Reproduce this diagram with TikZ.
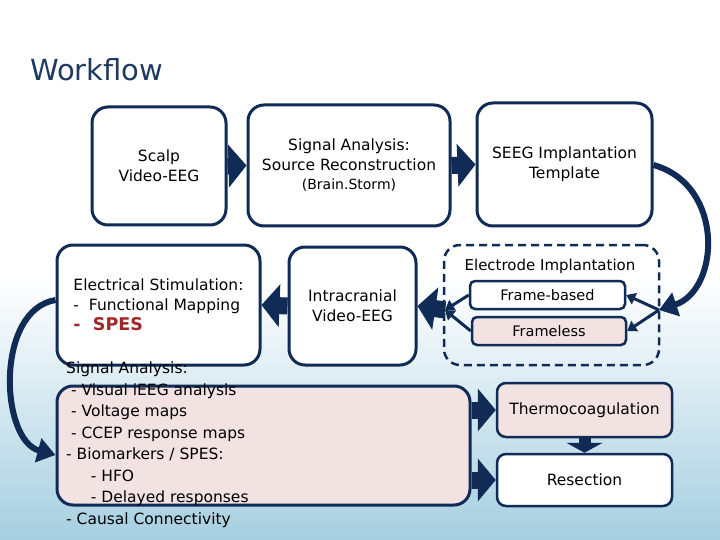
\documentclass[tikz,border=0pt]{standalone}
\usepackage{fontspec}
\setmainfont{DejaVu Sans}
\usetikzlibrary{arrows.meta}
\definecolor{navy}{HTML}{0F2B56}
\definecolor{pinkf}{HTML}{F2E2E2}
\definecolor{skyb}{HTML}{A6CFE0}
\definecolor{titlec}{HTML}{1F3A5F}
\definecolor{spes}{HTML}{A0262A}
\begin{document}
\begin{tikzpicture}[x=1pt,y=-1pt,
  box/.style={draw=navy,line width=3pt,rounded corners=16pt,fill=white,font=\fontsize{15.5}{20}\selectfont,align=center,inner sep=0pt},
  sbox/.style={draw=navy,line width=2.5pt,rounded corners=5pt,font=\fontsize{14.5}{18}\selectfont,align=center,inner sep=0pt},
  big/.style={line width=17pt,draw=navy,-{Triangle[length=18pt,width=42pt]}},
  thin/.style={line width=3pt,draw=navy,-{Triangle[length=9pt,width=12pt]}}]
\fill[white] (0,0) rectangle (720,540);
\fill[top color=white,bottom color=skyb] (0,280) rectangle (720,540);
\useasboundingbox (0,0) rectangle (720,540);
\node[anchor=west,text=titlec,font=\fontsize{29}{34}\selectfont,inner sep=0pt] (title) at (30,70) {Workflow};
\node[box,minimum width=134pt,minimum height=118pt] (scalp) at (159,166) {Scalp\\Video-EEG};
\node[box,minimum width=202pt,minimum height=121pt] (sig) at (349,165.5) {Signal Analysis:\\Source Reconstruction\\[-1pt]{\fontsize{14}{18}\selectfont(Brain.Storm)}};
\node[box,minimum width=175pt,minimum height=123pt] (seeg) at (564.5,164.5) {SEEG Implantation\\Template};
\node[box,minimum width=203pt,minimum height=120pt,align=left] (elec) at (158.5,305) {Electrical Stimulation:\\-\ \ Functional Mapping\\{\color{spes}\fontsize{17.5}{20}\selectfont\bfseries -\ \ SPES}};
\node[box,minimum width=127pt,minimum height=118pt] (intra) at (352.5,306) {Intracranial\\Video-EEG};
\node[draw=navy,line width=2.5pt,dashed,dash pattern=on 8pt off 5pt,rounded corners=16pt,minimum width=215pt,minimum height=120pt] (impl) at (551.5,305) {};
\node[font=\fontsize{15}{18}\selectfont] (impllab) at (550,266) {Electrode Implantation};
\node[sbox,fill=white,minimum width=155pt,minimum height=28pt] (fb) at (547.5,295) {Frame-based};
\node[sbox,fill=pinkf,minimum width=154pt,minimum height=28pt] (fl) at (549,331) {Frameless};
\node[box,fill=pinkf,minimum width=413pt,minimum height=119pt] (ana) at (263.5,445.5) {};
\node[anchor=north west,align=left,font=\fontsize{15.5}{21.5}\selectfont,inner sep=0pt] (anatext) at (66,362) {Signal Analysis:\\\ - Visual iEEG analysis\\\ - Voltage maps\\\ - CCEP response maps\\- Biomarkers / SPES:\\\ \ \ \ \ - HFO\\\ \ \ \ \ - Delayed responses\\- Causal Connectivity};
\node[sbox,fill=pinkf,rounded corners=9pt,minimum width=175pt,minimum height=54pt,font=\fontsize{15.5}{18}\selectfont] (thermo) at (584.5,410) {Thermocoagulation};
\node[sbox,fill=white,rounded corners=9pt,minimum width=175pt,minimum height=52pt,font=\fontsize{15.5}{18}\selectfont] (res) at (584.5,480) {Resection};
\coordinate (ir) at (659,310);
\coordinate (il) at (445,310);
\draw[big] (scalp.east) -- (sig.west);
\draw[big] (sig.east) -- (seeg.west);
\draw[big] (intra.west) -- (elec.east);
\draw[big] (il) -- (intra.east);
\draw[big] (ana.east|-thermo) -- (thermo.west);
\draw[big] (ana.east|-res) -- (res.west);
\draw[line width=12pt,draw=navy,-{Triangle[length=10pt,width=36pt]}] (thermo.south) -- (res.north);
\draw[line width=6pt,draw=navy,-{Triangle[length=18pt,width=24pt]}] (seeg.east|-0,165) .. controls (725,185) and (720,290) .. (ir);
\draw[line width=6pt,draw=navy,-{Triangle[length=18pt,width=24pt]}] (elec.west|-0,300) .. controls (-5,310) and (0,440) .. (ana.west|-0,455);
\draw[thin] (ir) -- (fb.east);
\draw[thin] (ir) -- (fl.east);
\draw[thin] (fb.west) -- (il);
\draw[thin] (fl.west) -- (il);
\end{tikzpicture}
\end{document}
